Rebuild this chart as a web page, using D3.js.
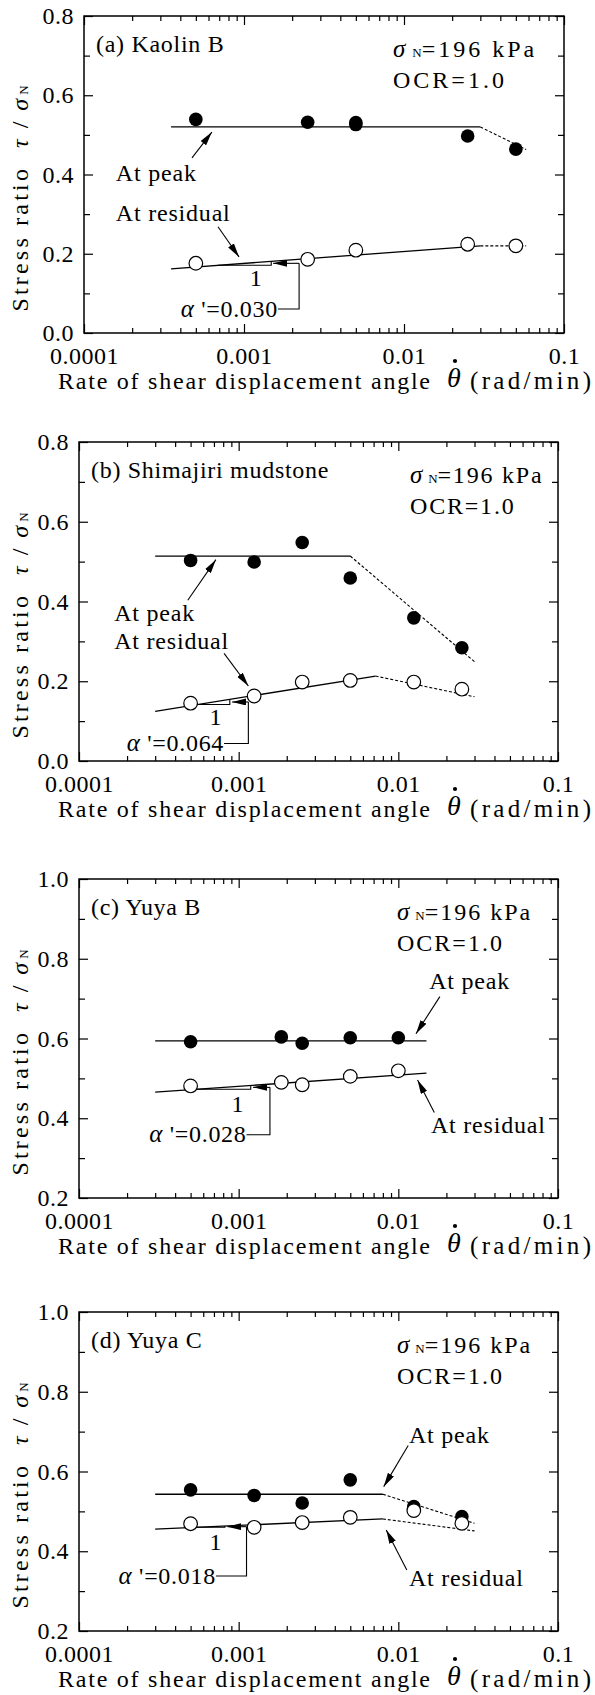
<!DOCTYPE html>
<html>
<head>
<meta charset="utf-8">
<script src="https://cdn.jsdelivr.net/npm/d3@7"></script>
<style>
  body { margin: 0; background: #fff; }
  svg { display: block; }
  text { font-family: "Liberation Serif", "Times New Roman", serif; fill: #000; }
</style>
</head>
<body>
<svg id="chart" width="595" height="1695"></svg>
<script>
// ---- shared axis ticks ----
const xTicks = [0.0001, 0.001, 0.01, 0.1];
const xTickLabels = ["0.0001", "0.001", "0.01", "0.1"];
const yTicksLow = [0.0, 0.2, 0.4, 0.6, 0.8];
const yTickLabelsLow = ["0.0", "0.2", "0.4", "0.6", "0.8"];
const yTicksHigh = [0.2, 0.4, 0.6, 0.8, 1.0];
const yTickLabelsHigh = ["0.2", "0.4", "0.6", "0.8", "1.0"];

// ---- (a) Kaolin B ----
const ratePeakA = [0.0005, 0.0025, 0.005, 0.005, 0.025, 0.05];
const peakA = [0.539, 0.532, 0.531, 0.526, 0.497, 0.464];
const rateResA = [0.0005, 0.0025, 0.005, 0.025, 0.05];
const residualA = [0.176, 0.186, 0.209, 0.224, 0.220];
const peakFitRateA = [0.00035, 0.03];
const peakFitA = [0.52, 0.52];
const peakTrendRateA = [0.03, 0.058];
const peakTrendA = [0.52, 0.463];
const resFitRateA = [0.00035, 0.03];
const resFitEndA = 0.220;
const alphaA = 0.030;
const resTrendRateA = [0.03, 0.058];
const resTrendA = [0.220, 0.220];

// ---- (b) Shimajiri mudstone ----
const ratePeakB = [0.0005, 0.00125, 0.0025, 0.005, 0.0125, 0.025];
const peakB = [0.503, 0.499, 0.548, 0.459, 0.359, 0.284];
const rateResB = [0.0005, 0.00125, 0.0025, 0.005, 0.0125, 0.025];
const residualB = [0.145, 0.163, 0.198, 0.202, 0.198, 0.180];
const peakFitRateB = [0.0003, 0.005];
const peakFitB = [0.514, 0.514];
const peakTrendRateB = [0.005, 0.03];
const peakTrendB = [0.514, 0.249];
const resFitRateB = [0.0003, 0.0072];
const resFitEndB = 0.213;
const alphaB = 0.064;
const resTrendRateB = [0.0072, 0.03];
const resTrendB = [0.213, 0.161];

// ---- (c) Yuya B ----
const ratePeakC = [0.0005, 0.00185, 0.0025, 0.005, 0.01];
const peakC = [0.592, 0.604, 0.588, 0.602, 0.602];
const rateResC = [0.0005, 0.00185, 0.0025, 0.005, 0.01];
const residualC = [0.481, 0.490, 0.484, 0.505, 0.519];
const peakFitRateC = [0.0003, 0.015];
const peakFitC = [0.594, 0.594];
const resFitRateC = [0.0003, 0.015];
const resFitEndC = 0.513;
const alphaC = 0.028;

// ---- (d) Yuya C ----
const ratePeakD = [0.0005, 0.00125, 0.0025, 0.005, 0.0125, 0.025];
const peakD = [0.554, 0.540, 0.521, 0.579, 0.512, 0.487];
const rateResD = [0.0005, 0.00125, 0.0025, 0.005, 0.0125, 0.025];
const residualD = [0.469, 0.460, 0.472, 0.485, 0.502, 0.470];
const peakFitRateD = [0.0003, 0.008];
const peakFitD = [0.543, 0.543];
const peakTrendRateD = [0.008, 0.03];
const peakTrendD = [0.543, 0.470];
const resFitRateD = [0.0003, 0.008];
const resFitEndD = 0.481;
const alphaD = 0.018;
const resTrendRateD = [0.008, 0.03];
const resTrendD = [0.481, 0.451];

const zip = (xs, ys) => xs.map((v, i) => [v, ys[i]]);

// Panel definitions: data + annotation anchors (in data units)
const panels = [
  {
    title: "(a) Kaolin B", box: { left: 84, right: 564, top: 16, bottom: 333 },
    yTicks: yTicksLow, yLabels: yTickLabelsLow, yDomain: [0, 0.8],
    peak: zip(ratePeakA, peakA), res: zip(rateResA, residualA),
    peakFit: zip(peakFitRateA, peakFitA), peakTrend: zip(peakTrendRateA, peakTrendA),
    resRate: resFitRateA, resEnd: resFitEndA, alpha: alphaA, alphaText: "0.030",
    resTrend: zip(resTrendRateA, resTrendA),
    tri: [0.00069, 0.00148], bracketX: 0.00221, bracketY: 0.0606, arrowTip: 0.00152,
    alphaEnd: 0.00163, one: [0.00119, 0.141],
    peakLabel: [0.000158, 0.406], peakArrow: [[0.000473, 0.442], [0.00063, 0.507]],
    resLabel: [0.000158, 0.305], resArrow: [[0.000688, 0.268], [0.000931, 0.192]],
    condX: 309, condSpacing: 3.0
  },
  {
    title: "(b) Shimajiri mudstone", box: { left: 79, right: 558, top: 442, bottom: 761 },
    yTicks: yTicksLow, yLabels: yTickLabelsLow, yDomain: [0, 0.8],
    peak: zip(ratePeakB, peakB), res: zip(rateResB, residualB),
    peakFit: zip(peakFitRateB, peakFitB), peakTrend: zip(peakTrendRateB, peakTrendB),
    resRate: resFitRateB, resEnd: resFitEndB, alpha: alphaB, alphaText: "0.064",
    resTrend: zip(resTrendRateB, resTrendB),
    tri: [0.00055, 0.00088], bracketX: 0.00115, bracketY: 0.044, arrowTip: 0.00091,
    alphaEnd: 0.00081, one: [0.00072, 0.111],
    peakLabel: [0.000166, 0.373], peakArrow: [[0.00048, 0.403], [0.00072, 0.505]],
    resLabel: [0.000166, 0.301], resArrow: [[0.00081, 0.27], [0.00115, 0.188]],
    condX: 331, condSpacing: 1.8
  },
  {
    title: "(c) Yuya B", box: { left: 79, right: 558, top: 879, bottom: 1198 },
    yTicks: yTicksHigh, yLabels: yTickLabelsHigh, yDomain: [0.2, 1.0],
    peak: zip(ratePeakC, peakC), res: zip(rateResC, residualC),
    peakFit: zip(peakFitRateC, peakFitC), peakTrend: null,
    resRate: resFitRateC, resEnd: resFitEndC, alpha: alphaC, alphaText: "0.028",
    resTrend: null,
    tri: [0.00055, 0.00119], bracketX: 0.00157, bracketY: 0.3586, arrowTip: 0.00123,
    alphaEnd: 0.00112, one: [0.00099, 0.436],
    peakLabel: [0.0156, 0.745], peakArrow: [[0.0182, 0.705], [0.0129, 0.612]],
    resLabel: [0.016, 0.384], resArrow: [[0.0168, 0.4146], [0.0132, 0.496]],
    condX: 318, condSpacing: 2.0
  },
  {
    title: "(d) Yuya C", box: { left: 79, right: 558, top: 1312, bottom: 1631 },
    yTicks: yTicksHigh, yLabels: yTickLabelsHigh, yDomain: [0.2, 1.0],
    peak: zip(ratePeakD, peakD), res: zip(rateResD, residualD),
    peakFit: zip(peakFitRateD, peakFitD), peakTrend: zip(peakTrendRateD, peakTrendD),
    resRate: resFitRateD, resEnd: resFitEndD, alpha: alphaD, alphaText: "0.018",
    resTrend: zip(resTrendRateD, resTrendD),
    tri: [0.00055, 0.00082], bracketX: 0.00112, bracketY: 0.338, arrowTip: 0.00085,
    alphaEnd: 0.00072, one: [0.00072, 0.424],
    peakLabel: [0.01165, 0.692], peakArrow: [[0.01153, 0.665], [0.0081, 0.562]],
    resLabel: [0.01165, 0.335], resArrow: [[0.0113, 0.353], [0.0084, 0.4535]],
    condX: 318, condSpacing: 2.0
  }
];

const svg = d3.select("#chart");
svg.append("rect").attr("width", 595).attr("height", 1695).attr("fill", "#fff");

svg.append("defs").append("marker")
  .attr("id", "arrowhead")
  .attr("markerUnits", "userSpaceOnUse")
  .attr("markerWidth", 14).attr("markerHeight", 7)
  .attr("refX", 14).attr("refY", 3.5)
  .attr("orient", "auto")
  .append("path").attr("d", "M0,0L14,3.5L0,7Z").attr("fill", "#000");

// minor tick positions on the log axis: 2..9 within each decade
const xMinor = [];
[0.0001, 0.001, 0.01].forEach(dec => { for (let k = 2; k <= 9; k++) xMinor.push(k * dec); });

function styleAxis(sel) {
  sel.select(".domain").remove();
  sel.selectAll(".tick line").attr("stroke", "#000").attr("stroke-width", 1.2);
  sel.selectAll(".tick text")
    .style("font-family", '"Liberation Serif", "Times New Roman", serif')
    .style("font-size", "24px").style("letter-spacing", "0.5px").attr("fill", "#000");
}

function drawPanel(p) {
  const b = p.box;
  const g = svg.append("g");
  const x = d3.scaleLog().domain([0.0001, 0.1]).range([b.left, b.right]);
  const y = d3.scaleLinear().domain(p.yDomain).range([b.bottom, b.top]);
  const yMinor = d3.range(p.yDomain[0] + 0.1, p.yDomain[1], 0.2);

  // bottom axis
  g.append("g").attr("transform", `translate(0,${b.bottom})`)
    .call(d3.axisBottom(x).tickValues(xTicks).tickFormat((d, i) => xTickLabels[i])
      .tickSizeInner(-9).tickSizeOuter(0).tickPadding(14)).call(styleAxis);
  g.append("g").attr("transform", `translate(0,${b.bottom})`)
    .call(d3.axisBottom(x).tickValues(xMinor).tickFormat("").tickSizeInner(-5).tickSizeOuter(0)).call(styleAxis);
  // top axis
  g.append("g").attr("transform", `translate(0,${b.top})`)
    .call(d3.axisTop(x).tickValues(xTicks).tickFormat("").tickSizeInner(-9).tickSizeOuter(0)).call(styleAxis);
  g.append("g").attr("transform", `translate(0,${b.top})`)
    .call(d3.axisTop(x).tickValues(xMinor).tickFormat("").tickSizeInner(-5).tickSizeOuter(0)).call(styleAxis);
  // left axis
  g.append("g").attr("transform", `translate(${b.left},0)`)
    .call(d3.axisLeft(y).tickValues(p.yTicks).tickFormat((d, i) => p.yLabels[i])
      .tickSizeInner(-9).tickSizeOuter(0).tickPadding(10)).call(styleAxis);
  g.append("g").attr("transform", `translate(${b.left},0)`)
    .call(d3.axisLeft(y).tickValues(yMinor).tickFormat("").tickSizeInner(-6).tickSizeOuter(0)).call(styleAxis);
  // right axis
  g.append("g").attr("transform", `translate(${b.right},0)`)
    .call(d3.axisRight(y).tickValues(p.yTicks).tickFormat("").tickSizeInner(-9).tickSizeOuter(0)).call(styleAxis);
  g.append("g").attr("transform", `translate(${b.right},0)`)
    .call(d3.axisRight(y).tickValues(yMinor).tickFormat("").tickSizeInner(-6).tickSizeOuter(0)).call(styleAxis);

  // frame
  g.append("rect").attr("x", b.left).attr("y", b.top)
    .attr("width", b.right - b.left).attr("height", b.bottom - b.top)
    .attr("fill", "none").attr("stroke", "#000").attr("stroke-width", 1.5);

  const line = d3.line().x(d => x(d[0])).y(d => y(d[1]));
  const fitY = r => p.resEnd - p.alpha * Math.log10(p.resRate[1] / r);

  // fitted lines
  g.append("path").attr("d", line(p.peakFit)).attr("fill", "none").attr("stroke", "#000").attr("stroke-width", 1.3);
  const resFit = p.resRate.map(r => [r, fitY(r)]);
  g.append("path").attr("d", line(resFit)).attr("fill", "none").attr("stroke", "#000").attr("stroke-width", 1.3);
  [p.peakTrend, p.resTrend].forEach(t => {
    if (!t) return;
    g.append("path").attr("d", line(t)).attr("fill", "none").attr("stroke", "#000")
      .attr("stroke-width", 1.1).attr("stroke-dasharray", "3,2");
  });

  // slope triangle
  const y0 = fitY(p.tri[0]);
  g.append("path")
    .attr("d", line([[p.tri[0], y0], [p.tri[1], y0], [p.tri[1], fitY(p.tri[1])]]))
    .attr("fill", "none").attr("stroke", "#000").attr("stroke-width", 1.1);
  const yMid = (y0 + fitY(p.tri[1])) / 2;
  // bracket from the alpha label to the triangle
  g.append("path")
    .attr("d", line([[p.alphaEnd, p.bracketY], [p.bracketX, p.bracketY], [p.bracketX, yMid]]))
    .attr("fill", "none").attr("stroke", "#000").attr("stroke-width", 1.1);
  g.append("path")
    .attr("d", line([[p.bracketX, yMid], [p.arrowTip, yMid]]))
    .attr("fill", "none").attr("stroke", "#000").attr("stroke-width", 1.1)
    .attr("marker-end", "url(#arrowhead)");

  const txt = (xx, yy, ls) => g.append("text").attr("x", xx).attr("y", yy)
    .style("font-size", "24px").style("letter-spacing", (ls === undefined ? 0.8 : ls) + "px");

  txt(x(p.one[0]), y(p.one[1])).attr("dy", "0.35em").attr("text-anchor", "middle").text("1");
  const at = txt(x(p.alphaEnd), y(p.bracketY), 0.7).attr("dy", "0.32em").attr("text-anchor", "end");
  at.append("tspan").style("font-style", "italic").style("font-size", "25px").text("α");
  at.append("tspan").text(" '=" + p.alphaText);

  // series labels with arrows
  txt(x(p.peakLabel[0]), y(p.peakLabel[1])).attr("dy", "0.35em").text("At peak");
  txt(x(p.resLabel[0]), y(p.resLabel[1])).attr("dy", "0.35em").text("At residual");
  [p.peakArrow, p.resArrow].forEach(a => {
    g.append("path").attr("d", line(a)).attr("fill", "none").attr("stroke", "#000")
      .attr("stroke-width", 1.1).attr("marker-end", "url(#arrowhead)");
  });

  // data points
  g.selectAll(".pk").data(p.peak).join("circle")
    .attr("cx", d => x(d[0])).attr("cy", d => y(d[1])).attr("r", 6.8).attr("fill", "#000");
  g.selectAll(".rs").data(p.res).join("circle")
    .attr("cx", d => x(d[0])).attr("cy", d => y(d[1])).attr("r", 6.8)
    .attr("fill", "#fff").attr("stroke", "#000").attr("stroke-width", 1.2);

  // panel title and test conditions
  txt(b.left + 12, b.top + 36, 0.7).text(p.title);
  const sn = txt(b.left + p.condX, b.top + 41, p.condSpacing);
  sn.append("tspan").style("font-style", "italic").style("font-size", "25px").text("σ");
  sn.append("tspan").attr("dx", 4).style("font-size", "13px").style("letter-spacing", "0px").text("N");
  sn.append("tspan").text("=196 kPa");
  txt(b.left + p.condX, b.top + 72, p.condSpacing).text("OCR=1.0");

  // y-axis title
  const cy = (b.top + b.bottom) / 2 + 24;
  const yt = g.append("text").attr("transform", `translate(28,${cy}) rotate(-90)`)
    .attr("text-anchor", "middle").style("font-size", "24px");
  yt.append("tspan").style("letter-spacing", "3.2px").text("Stress ratio");
  yt.append("tspan").attr("dx", 18).style("font-style", "italic").text("τ");
  yt.append("tspan").attr("dx", 11).text("/");
  yt.append("tspan").attr("dx", 11).style("font-style", "italic").text("σ");
  yt.append("tspan").attr("dx", 4).style("font-size", "13px").text("N");

  // x-axis title
  const by = b.bottom + 56;
  g.append("text").attr("x", 58).attr("y", by).style("font-size", "24px")
    .attr("textLength", 372).attr("lengthAdjust", "spacing")
    .text("Rate of shear displacement angle");
  g.append("text").attr("x", 454).attr("y", by - 2).attr("text-anchor", "middle")
    .style("font-size", "28px").style("font-style", "italic").text("θ");
  g.append("circle").attr("cx", 455).attr("cy", by - 28).attr("r", 2.1).attr("fill", "#000");
  g.append("text").attr("x", 470).attr("y", by).style("font-size", "25px")
    .attr("textLength", 121).attr("lengthAdjust", "spacing").text("(rad/min)");
}

panels.forEach(drawPanel);
</script>
</body>
</html>
